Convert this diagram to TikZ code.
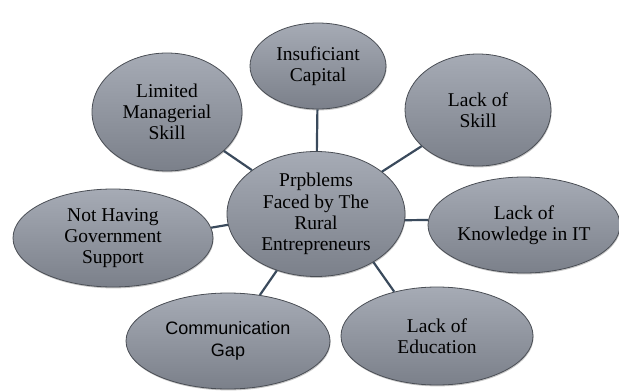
\documentclass[tikz,border=0pt]{standalone}
\usepackage{fontspec}
\setmainfont{Liberation Serif}
\newfontfamily\gapfont{Liberation Sans}
\usetikzlibrary{shapes.geometric,shadows}
\definecolor{bubtop}{HTML}{A6ABB5}
\definecolor{bubbot}{HTML}{7B808A}
\definecolor{bubrim}{HTML}{4A4E55}
\definecolor{linkcol}{HTML}{3A4A5C}
\begin{document}
\begin{tikzpicture}[x=1pt,y=-1pt,
    bubble/.style={ellipse,draw=bubrim,line width=0.8pt,top color=bubtop,bottom color=bubbot,
      inner sep=0pt,align=center,font=\fontsize{19.5}{21.2}\selectfont,
      drop shadow={opacity=0.45,shadow xshift=0.6pt,shadow yshift=-1.4pt}},
    link/.style={draw=linkcol,line width=2.2pt}]
        \useasboundingbox (0,0) rectangle (619,391);
        % hub and the problems round it
        \node[bubble,minimum width=178pt,minimum height=125pt] (hub) at (316,214) {Prpblems\\Faced by The\\Rural\\Entrepreneurs};
        \node[bubble,minimum width=136pt,minimum height=86pt] (capital) at (318,66) {Insuficiant\\Capital};
        \node[bubble,minimum width=150pt,minimum height=118pt] (managerial) at (167,112) {Limited\\Managerial\\Skill};
        \node[bubble,minimum width=146pt,minimum height=112pt] (skill) at (478,110) {Lack of\\Skill};
        \node[bubble,minimum width=192pt,minimum height=96pt] (knowledge) at (524,225) {Lack of\\Knowledge in IT};
        \node[bubble,minimum width=200pt,minimum height=98pt] (government) at (113,238) {Not Having\\Government\\Support};
        \node[bubble,minimum width=204pt,minimum height=96pt,font=\gapfont\fontsize{18}{21.5}\selectfont] (gap) at (228,341) {Communication\\Gap};
        \node[bubble,minimum width=192pt,minimum height=98pt] (education) at (437,336) {Lack of\\Education};
        % links
        \draw[link] (hub) -- (capital);
        \draw[link] (hub) -- (managerial);
        \draw[link] (hub) -- (skill);
        \draw[link] (hub.-4) -- (knowledge.177);
        \draw[link] (hub.187) -- (government.6);
        \draw[link] (hub) -- (gap);
        \draw[link] (hub.-40) -- (education.134);
    \end{tikzpicture}
\end{document}
